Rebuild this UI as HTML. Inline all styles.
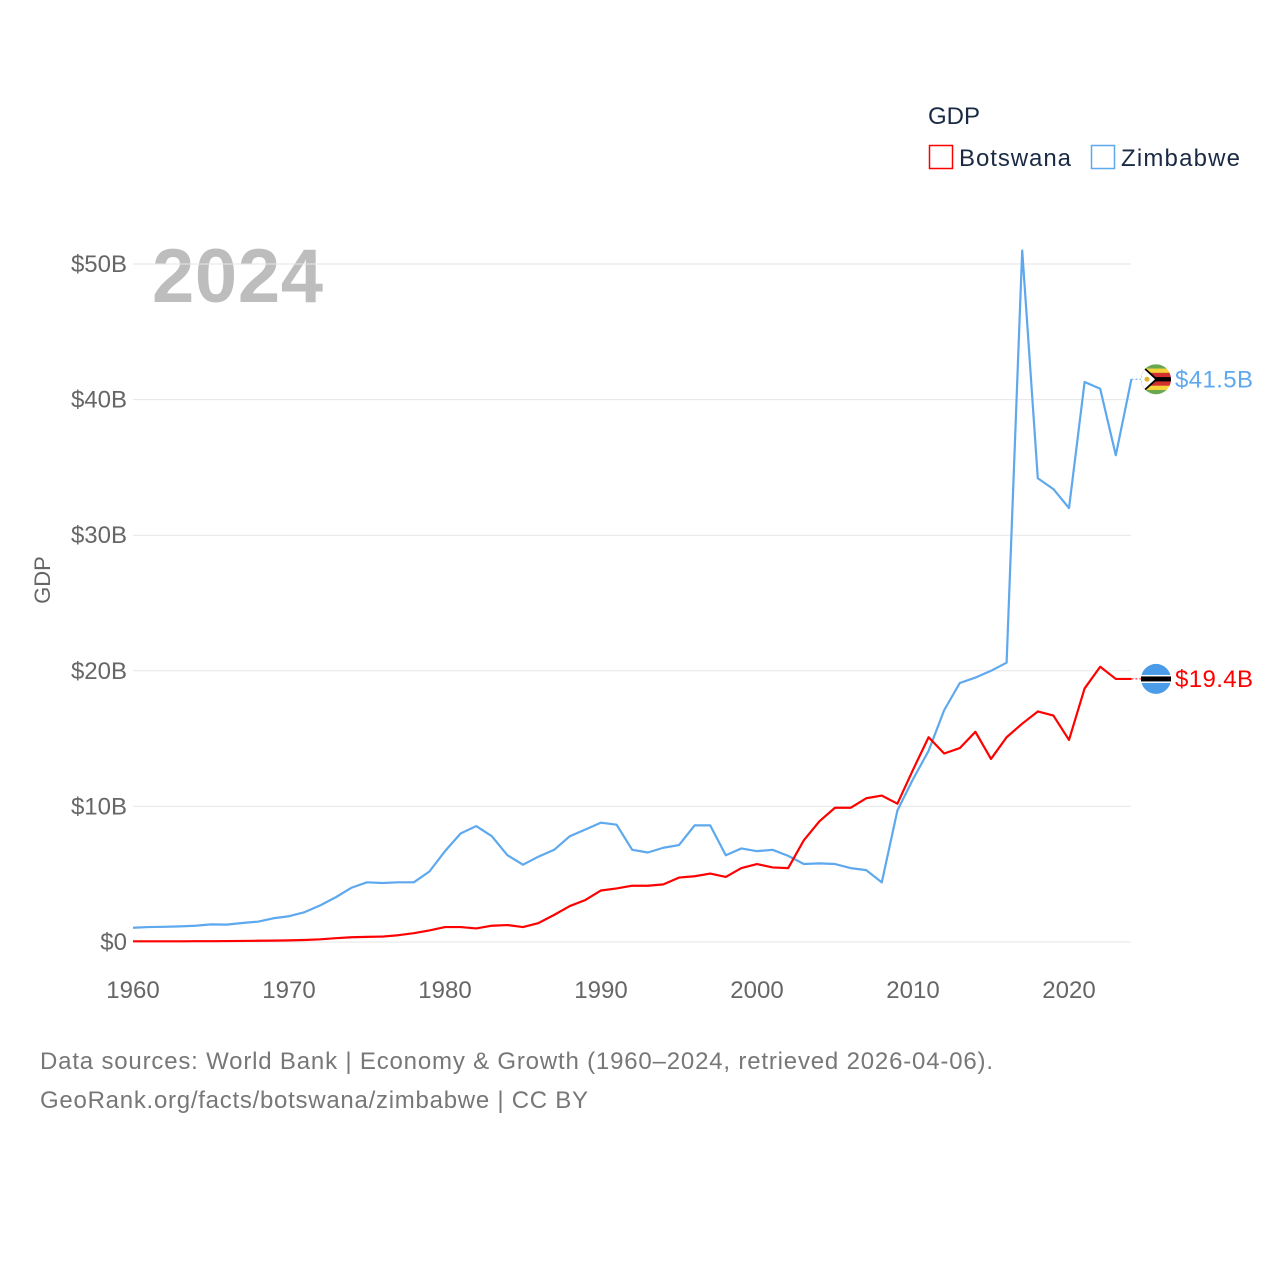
<!DOCTYPE html>
<html><head><meta charset="utf-8"><style>
html,body{margin:0;padding:0;background:#fff;}
svg{display:block;font-family:"Liberation Sans",sans-serif;}
</style></head><body>
<svg id="chart" width="1280" height="1280" viewBox="0 0 1280 1280">
<text x="928" y="124" font-size="24" fill="#1a2a44">GDP</text>
<g><rect x="929.5" y="145.5" width="23" height="23" fill="none" stroke="#ff0000" stroke-width="1.5"/><text x="959" y="166" font-size="24" fill="#1a2a44" textLength="112">Botswana</text></g>
<g><rect x="1091.5" y="145.5" width="23" height="23" fill="none" stroke="#5ea8ee" stroke-width="1.5"/><text x="1121" y="166" font-size="24" fill="#1a2a44" textLength="119">Zimbabwe</text></g>
<text x="152" y="302" font-size="76" font-weight="bold" fill="#bdbdbd" textLength="171">2024</text>
<text transform="translate(50,580) rotate(-90)" text-anchor="middle" font-size="22" fill="#666">GDP</text>
<g id="grid"></g><g id="xt"></g><g id="lines"></g>
<text x="40" y="1069" font-size="24" fill="#777" textLength="953">Data sources: World Bank | Economy &amp; Growth (1960–2024, retrieved 2026-04-06).</text>
<text x="40" y="1108" font-size="24" fill="#777" textLength="548">GeoRank.org/facts/botswana/zimbabwe | CC BY</text>
</svg>
<script>
const years=[];for(let y=1960;y<=2024;y++)years.push(y);
const yTicks=[0,10,20,30,40,50];
const yTickLabels=["$0","$10B","$20B","$30B","$40B","$50B"];
const xTicks=[1960,1970,1980,1990,2000,2010,2020];
const zimbabwe=[1.05,1.1,1.12,1.15,1.2,1.3,1.28,1.4,1.5,1.75,1.9,2.2,2.7,3.3,4.0,4.4,4.35,4.4,4.4,5.2,6.7,8.0,8.55,7.8,6.4,5.7,6.3,6.8,7.8,8.3,8.8,8.65,6.8,6.6,6.95,7.15,8.6,8.6,6.4,6.9,6.7,6.8,6.35,5.75,5.8,5.75,5.45,5.3,4.4,9.7,12.0,14.1,17.1,19.1,19.5,20.0,20.6,51.0,34.2,33.4,32.0,41.3,40.8,35.9,41.5];
const botswana=[0.05,0.05,0.05,0.05,0.06,0.06,0.07,0.08,0.09,0.1,0.12,0.15,0.2,0.28,0.35,0.38,0.4,0.5,0.65,0.85,1.1,1.1,1.0,1.2,1.25,1.1,1.4,2.0,2.65,3.1,3.8,3.95,4.15,4.15,4.25,4.75,4.85,5.05,4.8,5.45,5.75,5.5,5.45,7.5,8.9,9.9,9.9,10.6,10.8,10.2,12.7,15.1,13.9,14.3,15.5,13.5,15.1,16.1,17.0,16.7,14.9,18.7,20.3,19.4,19.4];
const NS='http://www.w3.org/2000/svg';
const xS=y=>133+(y-1960)*15.6;
const yS=v=>942-v*13.56;
function mk(t,a,p){const e=document.createElementNS(NS,t);for(const k in a)e.setAttribute(k,a[k]);p.appendChild(e);return e;}
const grid=document.getElementById('grid');
yTicks.forEach((v,i)=>{
 const l=mk('line',{x1:133,x2:1131,y1:yS(v),y2:yS(v),stroke:'#e6e6e6','stroke-width':1},grid);
 
 
 const t=mk('text',{x:127,y:yS(v)+8,'text-anchor':'end','font-size':24,fill:'#666'},grid);
 t.textContent=yTickLabels[i];
 
 
});
const xt=document.getElementById('xt');
xTicks.forEach(y=>{
 const t=mk('text',{x:xS(y),y:998,'text-anchor':'middle','font-size':24,fill:'#666'},xt);
 t.textContent=y;
 
 
});
const lines=document.getElementById('lines');
function series(vals,col,name,label){
 const pts=vals.map((v,i)=>xS(years[i])+','+yS(v)).join(' ');
 const p=mk('polyline',{points:pts,fill:'none',stroke:col,'stroke-width':2.2,'stroke-linejoin':'round'},lines);
 
 
 const last=vals[vals.length-1],ly=yS(last);
 mk('line',{x1:xS(2024),x2:1141,y1:ly,y2:ly,stroke:col,'stroke-width':1,'stroke-dasharray':'2,2'},lines);
 const g=mk('g',{},lines);
 
 
 if(name==='botswana'){
  mk('circle',{cx:1156,cy:ly,r:15,fill:'#4a9be8'},g);
  mk('rect',{x:1141,y:ly-4,width:30,height:8,fill:'#fff'},g);
  mk('rect',{x:1141,y:ly-2.5,width:30,height:5,fill:'#000'},g);
 }else{
  const cols=['#6aa84f','#f6d23b','#d32f2f','#000','#d32f2f','#f6d23b','#6aa84f'];
  const cp=mk('clipPath',{id:'zc'},g);mk('circle',{cx:1156,cy:ly,r:15},cp);
  const gg=mk('g',{'clip-path':'url(#zc)'},g);
  cols.forEach((c,i)=>mk('rect',{x:1141,y:ly-15+i*30/7,width:30,height:30/7+0.5,fill:c},gg));
  mk('polygon',{points:`1141,${ly-15} 1158,${ly} 1141,${ly+15}`,fill:'#000'},gg);
  mk('polygon',{points:`1141,${ly-13} 1155,${ly} 1141,${ly+13}`,fill:'#fff'},gg);
  mk('circle',{cx:1147,cy:ly,r:2.5,fill:'#e0b030'},gg);
 }
 const t=mk('text',{x:1175,y:ly+8,'font-size':24,fill:col,textLength:78},lines);
 t.textContent=label;
 
 
}
series(zimbabwe,'#5ea8ee','zimbabwe','$41.5B');
series(botswana,'#ff0000','botswana','$19.4B');
</script>
</body></html>
